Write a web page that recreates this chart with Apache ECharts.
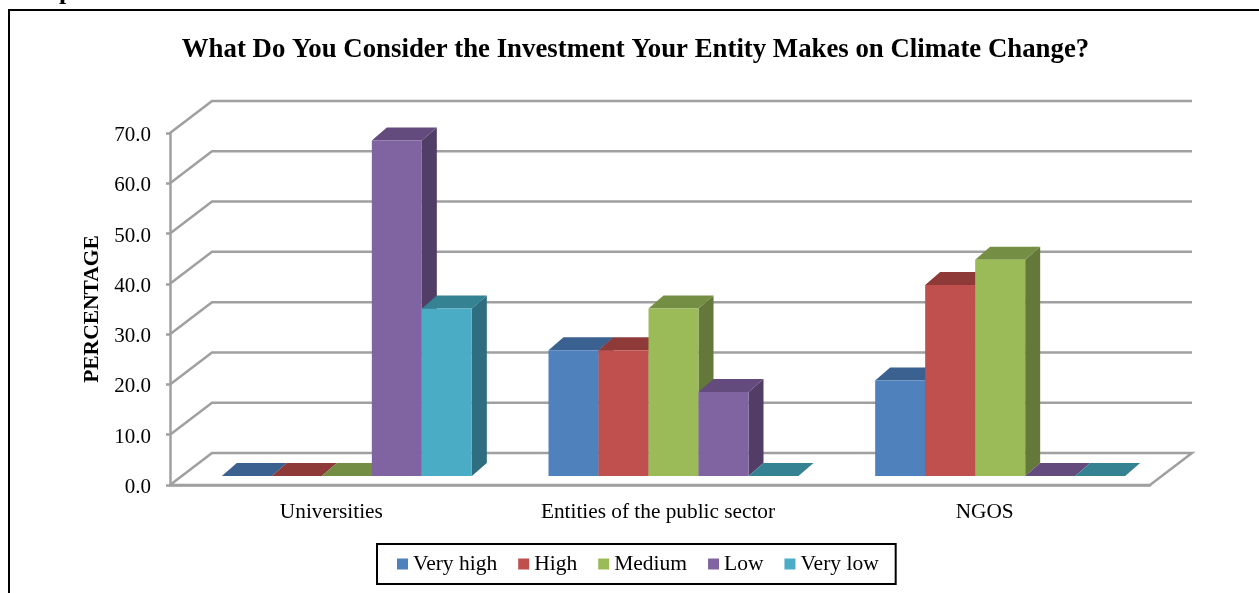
<!DOCTYPE html>
<html><head><meta charset="utf-8">
<style>html,body{margin:0;padding:0;background:#fff}#c{width:1259px;height:593px}</style>
<script src="https://cdn.jsdelivr.net/npm/echarts@6/dist/echarts.min.js"></script>
</head><body><div id="c"></div>
<script>
const categories = ['Universities', 'Entities of the public sector', 'NGOS'];
const yTicks = [0, 10, 20, 30, 40, 50, 60, 70];
const veryHigh = [0, 25, 19];
const high = [0, 25, 38];
const medium = [0, 33.3, 43];
const low = [66.7, 16.7, 0];
const veryLow = [33.3, 0, 0];
const seriesNames = ['Very high', 'High', 'Medium', 'Low', 'Very low'];
const seriesValues = [veryHigh, high, medium, low, veryLow];
const frontColors = ['#4F81BD', '#C0504D', '#9BBB59', '#8064A2', '#4BACC6'];
const topColors = ['#3A6190', '#8E3A38', '#748E43', '#634B7D', '#358293'];
const sideColors = ['#2F4F77', '#77302E', '#64783A', '#523D66', '#2F6E80'];

const FONT = '"Liberation Serif","Times New Roman",serif';
const WALL_DX = 42, WALL_DY = -32;   // depth of the chart box
const BAR_DX = 15, BAR_DY = -13;     // depth of one bar
const INSET_DX = 13.5, INSET_DY = -9;  // bar foot behind the front floor edge
const BAR_W = 50;
const GRAY = '#A0A0A0';

function wallItem(params, api) {
  const v = api.value(0);
  const r = params.coordSys;
  const y = api.coord([0, v])[1];
  const left = r.x, right = r.x + r.width;
  const pts = v === 0
    ? [[left,y],[left+WALL_DX,y+WALL_DY],[right+WALL_DX,y+WALL_DY],[right,y],[left,y]]
    : [[left,y],[left+WALL_DX,y+WALL_DY],[right+WALL_DX,y+WALL_DY]];
  return {type:'polyline', shape:{points:pts}, style:{fill:'none',stroke:GRAY,lineWidth:2.5}};
}

function barItem(si) {
  return function (params, api) {
    const c = api.value(0), v = api.value(1);
    const base = api.coord([c, 0]);
    const topP = api.coord([c, v]);
    const x0 = base[0] + INSET_DX - 2.5 * BAR_W + si * BAR_W;
    const x1 = x0 + BAR_W;
    const yb = base[1] + INSET_DY;
    const yt = topP[1] + INSET_DY;
    const kids = [];
    kids.push({type:'polygon', shape:{points:[[x1,yb],[x1+BAR_DX,yb+BAR_DY],[x1+BAR_DX,yt+BAR_DY],[x1,yt]]}, style:{fill:sideColors[si]}});
    kids.push({type:'polygon', shape:{points:[[x0,yt],[x0+BAR_DX,yt+BAR_DY],[x1+BAR_DX,yt+BAR_DY],[x1,yt]]}, style:{fill:topColors[si]}});
    if (v > 0) kids.push({type:'rect', shape:{x:x0,y:yt,width:BAR_W,height:yb-yt}, style:{fill:frontColors[si]}});
    return {type:'group', children:kids};
  };
}

const series = [{
  type:'custom', name:'wall', silent:true, coordinateSystem:'cartesian2d', z:1,
  data: yTicks.map(v => [v]), encode:{y:0}, renderItem: wallItem, clip:false
}];
seriesNames.forEach((n, si) => {
  series.push({
    type:'custom', name:n, coordinateSystem:'cartesian2d', z:2+si, clip:false,
    itemStyle:{color:frontColors[si]},
    encode:{x:0,y:1},
    data: seriesValues[si].map((v,i)=>[i,v]),
    renderItem: barItem(si)
  });
});

const chart = echarts.init(document.getElementById('c'), null, {renderer:'canvas'});
chart.setOption({
  animation:false,
  backgroundColor:'#fff',
  title:{text:'What Do You Consider the Investment Your Entity Makes on Climate Change?',
    left:630.5, top:32, textAlign:'center',
    textStyle:{fontFamily:FONT,fontWeight:'bold',fontSize:26.8,color:'#000'}},
  grid:{left:170,right:109,top:133,bottom:108,containLabel:false},
  xAxis:{type:'category',data:categories,
    axisLine:{show:true,lineStyle:{color:GRAY,width:2.5}},
    axisTick:{show:false},
    axisLabel:{fontFamily:FONT,fontSize:21.3,color:'#000',margin:17,padding:[0,4,0,0]},
    splitLine:{show:false}},
  yAxis:{type:'value',min:0,max:70,interval:10,
    name:'PERCENTAGE',nameLocation:'middle',nameGap:63,
    nameTextStyle:{fontFamily:FONT,fontWeight:'bold',fontSize:21.5,color:'#000'},
    axisLine:{show:true,lineStyle:{color:GRAY,width:2.5}},
    axisTick:{show:true,length:4,lineStyle:{color:GRAY,width:2.5}},
    axisLabel:{fontFamily:FONT,fontSize:21,color:'#000',margin:19,verticalAlign:'top',lineHeight:21,padding:[-8,0,0,0],formatter:v=>v.toFixed(1)},
    splitLine:{show:false}},
  legend:{data:seriesNames,left:377,top:544,orient:'horizontal',
    icon:'rect',itemWidth:11,itemHeight:11,itemGap:21,
    padding:[9,17,9,20],
    borderColor:'#000',borderWidth:2,backgroundColor:'#fff',
    textStyle:{fontFamily:FONT,fontSize:21.5,color:'#000',padding:[2,0,0,0]}},
  graphic:[
    {type:'polyline',silent:true,z:0,shape:{points:[[9,593],[9,10],[1259,10]]},style:{fill:'none',stroke:'#000',lineWidth:2}},
    {type:'text',silent:true,left:59,top:-21,style:{text:'p',font:'bold 26px '+FONT,fill:'#000'}}
  ],
  series
});
</script></body></html>
